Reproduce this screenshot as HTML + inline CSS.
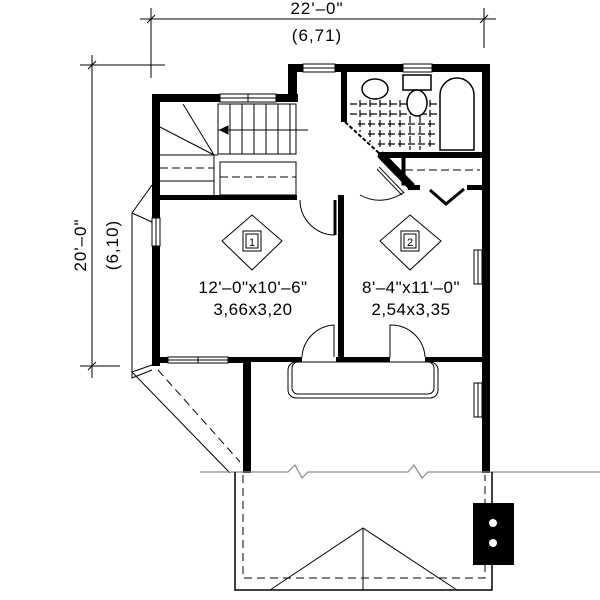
<!DOCTYPE html>
<html><head><style>body{margin:0;background:#fff}svg{display:block}</style></head><body>
<svg width="600" height="600" viewBox="0 0 600 600" xmlns="http://www.w3.org/2000/svg" font-family="Liberation Sans, sans-serif">
<rect width="600" height="600" fill="#fff"/>
<g stroke="#000" stroke-width="1" fill="none">
<line x1="140" y1="19" x2="496" y2="19"/>
<line x1="151" y1="8" x2="151" y2="78"/>
<line x1="484" y1="8" x2="484" y2="48"/>
<line x1="147" y1="23" x2="155" y2="15"/><line x1="480" y1="23" x2="488" y2="15"/>
<line x1="92" y1="55" x2="92" y2="378"/>
<line x1="80" y1="65" x2="165" y2="65"/>
<line x1="80" y1="366" x2="120" y2="366"/>
<line x1="88" y1="69" x2="96" y2="61"/><line x1="88" y1="370" x2="96" y2="362"/>
</g>
<text x="317" y="14" font-size="17" text-anchor="middle" letter-spacing="1">22'–0"</text>
<text x="317" y="41" font-size="17" text-anchor="middle" letter-spacing="1">(6,71)</text>
<text transform="translate(86,245) rotate(-90)" font-size="17" text-anchor="middle" letter-spacing="1">20'–0"</text>
<text transform="translate(118,245) rotate(-90)" font-size="17" text-anchor="middle" letter-spacing="1">(6,10)</text>
<g stroke="#000" stroke-width="1" fill="none">
<polyline points="152,185 132,213 132,378 152,370"/>
<line x1="132" y1="213" x2="152" y2="222"/>
<polyline points="152,365 132,372 230,473"/>
<line x1="158" y1="370" x2="240" y2="462" stroke-dasharray="8,5"/>
</g>
<g fill="#000">
<rect x="152" y="94" width="8" height="272"/>
<rect x="152" y="94" width="146" height="8"/>
<rect x="288" y="64" width="9" height="38"/>
<rect x="288" y="64" width="202" height="8"/>
<rect x="482" y="64" width="8" height="409"/>
<rect x="152" y="357" width="98" height="6"/>
<rect x="243" y="357" width="8" height="116"/>
<rect x="250" y="357" width="52" height="5"/>
<rect x="336" y="357" width="54" height="5"/>
<rect x="425" y="357" width="57" height="5"/>
<rect x="338" y="195" width="6" height="167"/>
<rect x="160" y="195" width="137" height="5"/>
<rect x="341" y="64" width="6" height="58"/>
<rect x="378" y="152" width="104" height="6"/>
<rect x="408" y="185" width="12" height="5"/>
<rect x="467" y="185" width="15" height="5"/>
</g>
<line x1="380" y1="154" x2="412" y2="187" stroke="#000" stroke-width="8"/>
<line x1="345" y1="122" x2="380" y2="154" stroke="#000" stroke-width="2" stroke-dasharray="4,2"/>
<g fill="#fff" stroke="#000" stroke-width="1">
<rect x="303" y="64" width="32" height="8"/><line x1="303" y1="68" x2="335" y2="68"/>
<rect x="403" y="64" width="29" height="8"/><line x1="403" y1="68" x2="432" y2="68"/>
<rect x="220" y="94" width="56" height="8"/><line x1="220" y1="98" x2="276" y2="98"/><line x1="248" y1="94" x2="248" y2="102"/>
<rect x="152" y="218" width="8" height="28"/><line x1="156" y1="218" x2="156" y2="246"/>
<rect x="168" y="357" width="60" height="6"/><line x1="168" y1="360" x2="228" y2="360"/><line x1="198" y1="357" x2="198" y2="363"/>
<rect x="474" y="250" width="8" height="34"/><line x1="478" y1="250" x2="478" y2="284"/>
<rect x="474" y="383" width="8" height="34"/><line x1="478" y1="383" x2="478" y2="417"/>
</g>
<g stroke="#000" stroke-width="1" fill="none">
<rect x="218" y="104" width="78" height="50"/>
<line x1="230" y1="104" x2="230" y2="154"/><line x1="242" y1="104" x2="242" y2="154"/><line x1="254" y1="104" x2="254" y2="154"/><line x1="266" y1="104" x2="266" y2="154"/><line x1="278" y1="104" x2="278" y2="154"/><line x1="290" y1="104" x2="290" y2="154"/>
<line x1="218" y1="130" x2="308" y2="130"/>
<polygon points="220,130 228,126 228,134" fill="#000"/>
<line x1="183" y1="104" x2="214" y2="155"/><line x1="160" y1="127" x2="214" y2="155"/>
<line x1="160" y1="155" x2="218" y2="155"/>
<line x1="160" y1="168" x2="214" y2="168" stroke-dasharray="8,4"/>
<line x1="160" y1="181" x2="214" y2="181"/>
<line x1="214" y1="155" x2="214" y2="195"/>
<rect x="220" y="162" width="76" height="33"/>
<line x1="220" y1="177" x2="296" y2="177" stroke-dasharray="8,4"/>
</g>
<g stroke="#000" stroke-width="1.2" stroke-dasharray="7,3">
<line x1="350" y1="104" x2="438" y2="104"/><line x1="350" y1="114" x2="438" y2="114"/><line x1="358" y1="124" x2="438" y2="124"/><line x1="368" y1="134" x2="438" y2="134"/><line x1="378" y1="144" x2="438" y2="144"/>
<line x1="360" y1="100" x2="360" y2="132"/><line x1="370" y1="100" x2="370" y2="142"/><line x1="380" y1="100" x2="380" y2="150"/><line x1="390" y1="100" x2="390" y2="150"/><line x1="400" y1="100" x2="400" y2="150"/><line x1="410" y1="116" x2="410" y2="150"/><line x1="420" y1="116" x2="420" y2="150"/><line x1="430" y1="100" x2="430" y2="150"/>
</g>
<g stroke="#000" stroke-width="1.5" fill="#fff">
<ellipse cx="375" cy="89" rx="13" ry="10"/>
<rect x="403" y="75" width="28" height="15"/>
<ellipse cx="417" cy="103" rx="10" ry="13"/>
<path d="M440,150 V95 a17,17 0 0 1 34,0 V150 Z"/>
</g>
<g stroke="#000" fill="none">
<rect x="402" y="158" width="3" height="27" fill="#000"/>
<line x1="405" y1="170" x2="480" y2="170" stroke-dasharray="8,4"/>
<polyline points="430,190 446,204 464,189" stroke-width="3"/>
<line x1="378" y1="168" x2="403" y2="194" stroke-width="4"/>
<line x1="378" y1="168" x2="403" y2="194" stroke-width="2" stroke="#fff"/>
</g>
<g stroke="#000" stroke-width="1" fill="none">
<path d="M300,200 A35,35 0 0 0 335,235"/><line x1="335" y1="200" x2="335" y2="235" stroke-width="3"/>
<path d="M360,195 A40,40 0 0 0 404,192"/>
<path d="M302,357 A34,34 0 0 1 334,325 V357"/>
<path d="M390,357 V325 A34,34 0 0 1 425,357"/>
<rect x="288" y="362" width="150" height="36" rx="8"/>
<rect x="292" y="362" width="142" height="32" rx="6"/>
</g>
<g stroke="#000" fill="none" stroke-width="1">
<polygon points="252,215 282,241 252,270 222,241"/>
<rect x="243" y="231" width="18" height="20"/><rect x="246" y="234" width="12" height="14"/>
<polygon points="410,215 441,241 410,270 380,241"/>
<rect x="401" y="231" width="18" height="20"/><rect x="404" y="234" width="12" height="14"/>
</g>
<text x="252" y="246" font-size="11" text-anchor="middle">1</text>
<text x="410" y="246" font-size="11" text-anchor="middle">2</text>
<text x="253" y="293" font-size="17" text-anchor="middle" letter-spacing="0.5">12'–0"x10'–6"</text>
<text x="253" y="315" font-size="17" text-anchor="middle" letter-spacing="0.5">3,66x3,20</text>
<text x="411" y="293" font-size="17" text-anchor="middle" letter-spacing="0.5">8'–4"x11'–0"</text>
<text x="411" y="315" font-size="17" text-anchor="middle" letter-spacing="0.5">2,54x3,35</text>
<g fill="none">
<polyline points="200,472 288,472 295,465 302,478 308,472 408,472 414,465 422,478 428,472 600,472" stroke="#888" stroke-width="1.2"/>
<polyline points="235,472 235,590 492,590 492,472" stroke="#000" stroke-width="1.5"/>
<polyline points="243,475 243,578 485,578 485,475" stroke="#000" stroke-dasharray="8,5"/>
<polyline points="270,590 363,528 457,590" stroke="#000"/>
<line x1="363" y1="528" x2="363" y2="590" stroke="#000"/>
</g>
<rect x="473" y="503" width="41" height="62" fill="#000"/>
<circle cx="493" cy="523" r="4" fill="#fff"/><circle cx="493" cy="543" r="4" fill="#fff"/>
</svg>
</body></html>
